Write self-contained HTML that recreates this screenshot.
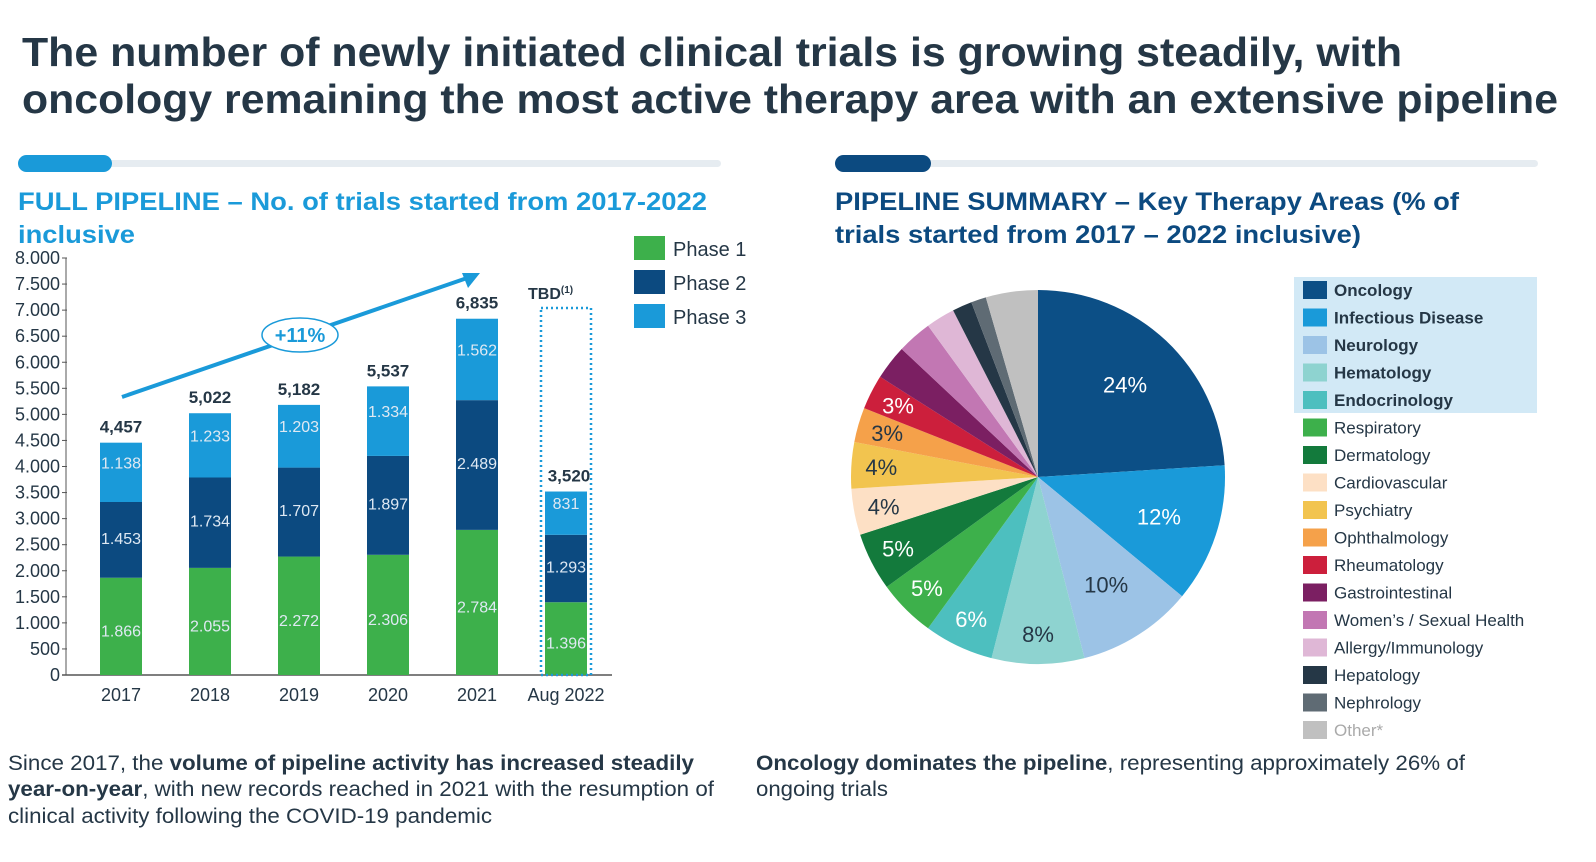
<!DOCTYPE html>
<html><head><meta charset="utf-8"><style>
body{margin:0;width:1596px;height:857px;overflow:hidden;background:#fff;font-family:"Liberation Sans",sans-serif}
svg text{font-family:"Liberation Sans",sans-serif}
</style></head><body>
<svg id="s" width="1596" height="857" xmlns="http://www.w3.org/2000/svg">
<text x="22" y="66" font-size="41" font-weight="bold" fill="#253746" textLength="1380" lengthAdjust="spacingAndGlyphs">The number of newly initiated clinical trials is growing steadily, with</text>
<text x="22" y="113" font-size="41" font-weight="bold" fill="#253746" textLength="1536" lengthAdjust="spacingAndGlyphs">oncology remaining the most active therapy area with an extensive pipeline</text>
<rect x="18" y="160" width="703" height="7" rx="3.5" fill="#e6ecf1"/>
<rect x="18" y="155" width="94" height="17" rx="8.5" fill="#1a9ad9"/>
<rect x="835" y="160" width="703" height="7" rx="3.5" fill="#e6ecf1"/>
<rect x="835" y="155" width="96" height="17" rx="8.5" fill="#0c4a80"/>
<text x="18" y="210" font-size="25" font-weight="bold" fill="#1a9ad9" textLength="689" lengthAdjust="spacingAndGlyphs">FULL PIPELINE – No. of trials started from 2017-2022</text>
<text x="18" y="243" font-size="25" font-weight="bold" fill="#1a9ad9" textLength="117" lengthAdjust="spacingAndGlyphs">inclusive</text>
<text x="835" y="210" font-size="25" font-weight="bold" fill="#0c4a80" textLength="624" lengthAdjust="spacingAndGlyphs">PIPELINE SUMMARY – Key Therapy Areas (% of</text>
<text x="835" y="243" font-size="25" font-weight="bold" fill="#0c4a80" textLength="526" lengthAdjust="spacingAndGlyphs">trials started from 2017 – 2022 inclusive)</text>
<g id="bars"></g>
<g id="pie"></g>
<rect x="1294" y="277" width="243" height="136" fill="#d2e9f6"/>
<g id="leg"></g>
<text x="8" y="770" font-size="21" fill="#253746" textLength="686" lengthAdjust="spacingAndGlyphs">Since 2017, the <tspan font-weight="bold">volume of pipeline activity has increased steadily</tspan></text>
<text x="8" y="796" font-size="21" fill="#253746" textLength="706" lengthAdjust="spacingAndGlyphs"><tspan font-weight="bold">year-on-year</tspan>, with new records reached in 2021 with the resumption of</text>
<text x="8" y="823" font-size="21" fill="#253746" textLength="484" lengthAdjust="spacingAndGlyphs">clinical activity following the COVID-19 pandemic</text>
<text x="756" y="770" font-size="21" fill="#253746" textLength="709" lengthAdjust="spacingAndGlyphs"><tspan font-weight="bold">Oncology dominates the pipeline</tspan>, representing approximately 26% of</text>
<text x="756" y="796" font-size="21" fill="#253746" textLength="132" lengthAdjust="spacingAndGlyphs">ongoing trials</text>
</svg>
<script>
const years=["2017","2018","2019","2020","2021","Aug 2022"];
const phase1=[1866,2055,2272,2306,2784,1396];
const phase2=[1453,1734,1707,1897,2489,1293];
const phase3=[1138,1233,1203,1334,1562,831];
const totals=["4,457","5,022","5,182","5,537","6,835","3,520"];
const yTicks=[0,500,1000,1500,2000,2500,3000,3500,4000,4500,5000,5500,6000,6500,7000,7500,8000];
const areas=["Oncology","Infectious Disease","Neurology","Hematology","Endocrinology","Respiratory","Dermatology","Cardiovascular","Psychiatry","Ophthalmology","Rheumatology","Gastrointestinal","Women’s / Sexual Health","Allergy/Immunology","Hepatology","Nephrology","Other*"];
const shares=[24,12,10,8,6,5,5,4,4,3,3,3,3,2.5,1.7,1.3,4.5];
const shareLabels=["24%","12%","10%","8%","6%","5%","5%","4%","4%","3%","3%","","","","","",""];
const NS="http://www.w3.org/2000/svg";
function mk(p,t,a,txt){const e=document.createElementNS(NS,t);for(const k in a)e.setAttribute(k,a[k]);if(txt!==undefined)e.textContent=txt;p.appendChild(e);return e;}
const B=document.getElementById('bars');
const y=v=>675-v*(417/8000);
const x=i=>121+i*89;
const bw=42;
yTicks.forEach(t=>{const lbl=mk(B,'text',{x:60,y:y(t)+6,'font-size':18,'text-anchor':'end',fill:'#253746'},t===0?"0":t.toLocaleString('de-DE'));


const tk=mk(B,'line',{x1:62,x2:67,y1:y(t),y2:y(t),stroke:'#555'});

});
const ax=mk(B,'line',{x1:66,x2:66,y1:y(8000),y2:675,stroke:'#555','stroke-width':1});


const ax2=mk(B,'line',{x1:62,x2:612,y1:675,y2:675,stroke:'#555','stroke-width':1.5});


const cols=['#3db04b','#0c4a80','#1a9ad9'];
const series=[phase1,phase2,phase3];
years.forEach((yr,i)=>{let base=0;
series.forEach((s,k)=>{const v=s[i];
const r=mk(B,'rect',{x:x(i)-bw/2,y:y(base+v),width:bw,height:y(base)-y(base+v),fill:cols[k]});


const l=mk(B,'text',{x:x(i),y:(y(base)+y(base+v))/2+(k==0?10:k==1?4:-4),'font-size':16,'text-anchor':'middle',fill:'#dfe9f3'},i==5&&k==2?String(v):(v/1000).toFixed(3));


base+=v;});
const tl=mk(B,'text',{x:x(i)+(i==5?3:0),y:y(base)-10,'font-size':17,'font-weight':'bold','text-anchor':'middle',fill:'#253746'},totals[i]);


const xl=mk(B,'text',{x:x(i),y:701,'font-size':18,'text-anchor':'middle',fill:'#253746'},yr);

});
const tbd=mk(B,'rect',{x:x(5)-25,y:308,width:50,height:367,fill:'none',stroke:'#1a9ad9','stroke-width':2.5,'stroke-dasharray':'2 3'});


const tt=mk(B,'text',{x:528,y:299,'font-size':16,'font-weight':'bold',fill:'#253746'},'TBD');


mk(tt,'tspan',{'font-size':10,dy:-6},'(1)');
const ar=mk(B,'line',{x1:122,y1:397,x2:470,y2:277,stroke:'#1a9ad9','stroke-width':4});


const ah=mk(B,'polygon',{points:'480,273 462,273 468,288',fill:'#1a9ad9'});


const el=mk(B,'ellipse',{cx:300,cy:335,rx:38,ry:17,fill:'#fff',stroke:'#1a9ad9','stroke-width':1.5});


const et=mk(B,'text',{x:300,y:342,'font-size':20,'font-weight':'bold','text-anchor':'middle',fill:'#1a9ad9'},'+11%');


["Phase 1","Phase 2","Phase 3"].forEach((p,k)=>{const ly=236+k*34;
const sw=mk(B,'rect',{x:634,y:ly,width:31,height:24,fill:cols[k]});


const lt=mk(B,'text',{x:673,y:ly+20,'font-size':20,fill:'#253746'},p);

});
const P=document.getElementById('pie');
const pc=['#0c4f86','#1a9ad9','#9cc3e6','#8ed3d0','#4dbfbf','#3db04b','#137a3c','#fde0c5','#f2c44f','#f5a14a','#cc1f3c','#7b1f62','#c277b3','#dfb7d6','#253746','#5f6b74','#c0c0c0'];
const cx=1038,cy=477,R=187;
const tot=shares.reduce((a,b)=>a+b,0);
let ang=0;
const lblCol=['#fff','#fff','#253746','#253746','#fff','#fff','#fff','#253746','#253746','#253746','#fff'];
shares.forEach((v,i)=>{const a0=ang/tot*2*Math.PI,a1=(ang+v)/tot*2*Math.PI;ang+=v;
const p0=[cx+R*Math.sin(a0),cy-R*Math.cos(a0)],p1=[cx+R*Math.sin(a1),cy-R*Math.cos(a1)];
const s=mk(P,'path',{d:`M${cx},${cy}L${p0[0]},${p0[1]}A${R},${R} 0 ${a1-a0>Math.PI?1:0} 1 ${p1[0]},${p1[1]}Z`,fill:pc[i]});


if(shareLabels[i]){const am=(a0+a1)/2,rr=i<3?R*0.68:R*0.84;
const t=mk(P,'text',{x:cx+rr*Math.sin(am),y:cy-rr*Math.cos(am)+8,'font-size':22,'text-anchor':'middle',fill:lblCol[i]},shareLabels[i]);

}});
const L=document.getElementById('leg');
areas.forEach((a,i)=>{const ly=281+i*27.5;
const sw=mk(L,'rect',{x:1303,y:ly,width:24,height:18,fill:pc[i]});


const t=mk(L,'text',{x:1334,y:ly+15,'font-size':17,'font-weight':i<5?'bold':'normal',fill:i==16?'#aaa':'#253746'},a);

});
</script>
</body></html>
